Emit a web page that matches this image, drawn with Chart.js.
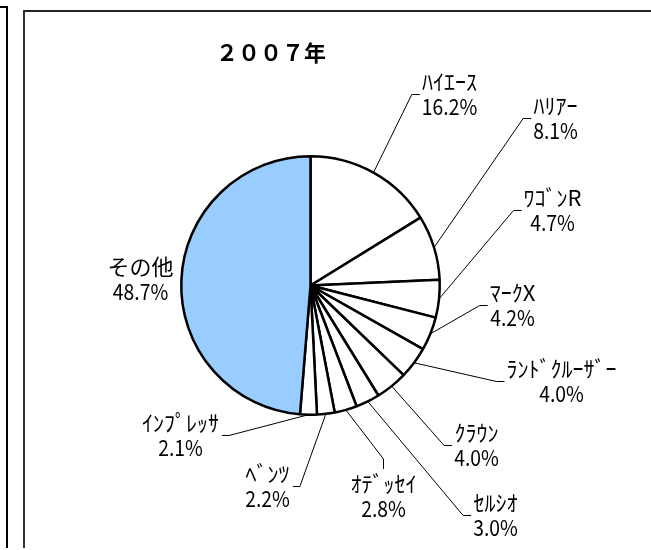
<!DOCTYPE html>
<html><head><meta charset="utf-8">
<script src="https://cdn.jsdelivr.net/npm/chart.js@4"></script>
<style>
html,body{margin:0;padding:0;background:#fff;width:651px;height:550px;overflow:hidden;}
#f1{position:absolute;left:0;top:6px;width:6px;height:540px;border-top:2px solid #000;border-right:2px solid #000;}
#f2{position:absolute;left:23px;top:10px;width:660px;height:536px;border-top:2px solid #222;border-left:2px solid #333;}
canvas{position:absolute;left:0;top:0;}
</style></head><body>
<div id="f1"></div><div id="f2"></div>
<canvas id="c" width="651" height="550"></canvas>
<script>
const titleText = '２００７年';
const categories = ['ﾊｲｴｰｽ','ﾊﾘｱｰ','ﾜｺﾞﾝR','ﾏｰｸX','ﾗﾝﾄﾞｸﾙｰｻﾞｰ','ｸﾗｳﾝ','ｾﾙｼｵ','ｵﾃﾞｯｾｲ','ﾍﾞﾝﾂ','ｲﾝﾌﾟﾚｯｻ','その他'];
const shares = [16.2, 8.1, 4.7, 4.2, 4.0, 4.0, 3.0, 2.8, 2.2, 2.1, 48.7];
const sliceColors = ['#ffffff','#ffffff','#ffffff','#ffffff','#ffffff','#ffffff','#ffffff','#ffffff','#ffffff','#ffffff','#99ccff'];

// label placement (offset of the label centre from the pie centre, side the leader attaches to)
const labelPlacement = [
  {dx:139, dy:-191, side:'left'},
  {dx:245, dy:-167, side:'left'},
  {dx:242, dy:-75, side:'left'},
  {dx:202, dy:20, side:'left'},
  {dx:251, dy:96, side:'left'},
  {dx:166, dy:160, side:'left'},
  {dx:185, dy:230, side:'left'},
  {dx:73, dy:211, side:'top'},
  {dx:-43, dy:201, side:'right'},
  {dx:-130, dy:150, side:'right'},
  {dx:-170, dy:-6, side:'none'}
];
const FONT = '22px "Noto Sans CJK JP", "Noto Sans CJK SC", sans-serif';
const TITLE_FONT = 'bold 22px "Noto Sans CJK JP", "Noto Sans CJK SC", sans-serif';
const LINE_GAP = 25;
const VALUE_SCALE_X = 0.88;

const labelPlugin = {
  id: 'pieLabels',
  afterDatasetsDraw(chart) {
    const ctx = chart.ctx;
    const meta = chart.getDatasetMeta(0);
    ctx.save();
    // title
    ctx.font = TITLE_FONT;
    ctx.fillStyle = '#000';
    ctx.textAlign = 'center';
    ctx.textBaseline = 'middle';
    ctx.fillText(titleText, 271, 53);
    ctx.font = FONT;
    meta.data.forEach((arc, i) => {
      const p = labelPlacement[i];
      const cx = arc.x + p.dx, cy = arc.y + p.dy;
      const name = categories[i];
      const val = shares[i].toFixed(1) + '%';
      const w = Math.max(ctx.measureText(name).width, ctx.measureText(val).width * VALUE_SCALE_X);
      const nameY = cy - LINE_GAP / 2, valY = cy + LINE_GAP / 2;
      ctx.fillText(name, cx, nameY);
      ctx.save();
      ctx.translate(cx, valY);
      ctx.scale(VALUE_SCALE_X, 1);
      ctx.fillText(val, 0, 0);
      ctx.restore();
      if (p.side === 'none') return;
      const mid = (arc.startAngle + arc.endAngle) / 2;
      const sx = arc.x + Math.cos(mid) * arc.outerRadius;
      const sy = arc.y + Math.sin(mid) * arc.outerRadius;
      let ex, ey, tx, ty;
      if (p.side === 'left') { ex = cx - w / 2 - 10; ey = cy; tx = cx - w / 2 - 2; ty = cy; }
      else if (p.side === 'right') { ex = cx + w / 2 + 10; ey = cy; tx = cx + w / 2 + 3; ty = cy; }
      else { ex = cx; ey = nameY - 25; tx = cx; ty = nameY - 15; }
      ctx.beginPath();
      ctx.lineWidth = 1;
      ctx.strokeStyle = '#000';
      ctx.moveTo(sx, sy);
      ctx.lineTo(ex, ey);
      ctx.lineTo(tx, ty);
      ctx.stroke();
    });
    ctx.restore();
  }
};

function build() {
  new Chart(document.getElementById('c'), {
    type: 'pie',
    data: {
      labels: categories,
      datasets: [{
        data: shares,
        backgroundColor: sliceColors,
        borderColor: '#000',
        borderWidth: 2.5
      }]
    },
    options: {
      responsive: false,
      animation: false,
      layout: { padding: { left: 180, right: 210, top: 155, bottom: 134 } },
      plugins: { legend: { display: false }, tooltip: { enabled: false }, title: { display: false } }
    },
    plugins: [labelPlugin]
  });
}
if (document.fonts && document.fonts.load) {
  Promise.all([
    document.fonts.load(FONT, 'ﾊｲｴｰｽ16.2%その他'),
    document.fonts.load(TITLE_FONT, '２００７年')
  ]).then(build, build);
} else { build(); }
</script>
</body></html>
